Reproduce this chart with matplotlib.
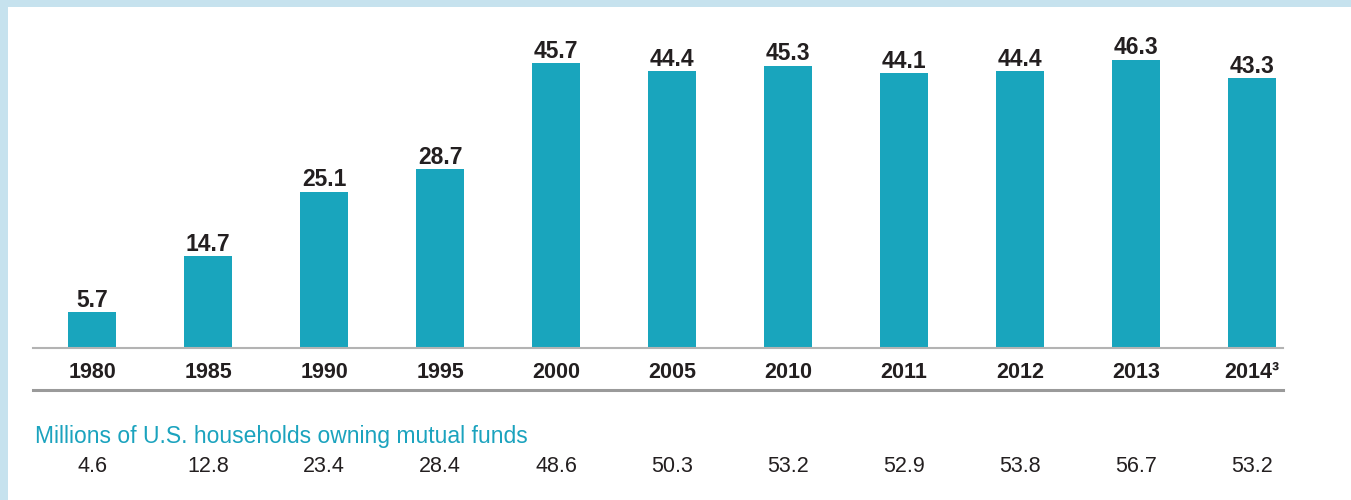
import matplotlib.pyplot as plt
from matplotlib.patches import Rectangle
from matplotlib.lines import Line2D
from matplotlib.transforms import blended_transform_factory

# 数据
years = ['1980', '1985', '1990', '1995', '2000', '2005', '2010', '2011', '2012', '2013', '2014\u00b3']
pct_households = [5.7, 14.7, 25.1, 28.7, 45.7, 44.4, 45.3, 44.1, 44.4, 46.3, 43.3]
millions_households = [4.6, 12.8, 23.4, 28.4, 48.6, 50.3, 53.2, 52.9, 53.8, 56.7, 53.2]
row_title = 'Millions of U.S. households owning mutual funds'

BAR = '#19A5BD'
TEAL = '#1BA3BE'
DARK = '#231F20'
BORDER = '#C6E2EE'

plt.rcParams['font.family'] = ['Liberation Sans Narrow', 'Liberation Sans', 'DejaVu Sans']

W, H = 1351, 500
fig = plt.figure(figsize=(W / 100, H / 100), dpi=100, facecolor=BORDER)

# 白色背景区域
fig.add_artist(Rectangle((8 / W, 0), 1 - 8 / W, 1 - 7 / H, transform=fig.transFigure,
                         facecolor='white', edgecolor='none', zorder=0))

# 柱状图
x0, x1 = 33, 1283
base_y, top_y = 348, 7
ax = fig.add_axes([x0 / W, 1 - base_y / H, (x1 - x0) / W, (base_y - top_y) / H])
ax.set_facecolor('none')

xs = list(range(len(years)))
ax.bar(xs, pct_households, width=0.414, color=BAR, zorder=2)
ax.set_xlim(-(92 - x0) / 116, (x1 - 92) / 116)
ax.set_ylim(0, (base_y - top_y) / 6.23)

for x, v in zip(xs, pct_households):
    ax.annotate(f'{v:.1f}', (x, v), xytext=(0, 4), textcoords='offset points',
                ha='center', va='baseline', fontsize=16.5, fontweight='bold', color=DARK)

ax.set_xticks(xs)
ax.set_xticklabels(years, fontsize=15.5, fontweight='bold', color=DARK)
ax.tick_params(axis='x', length=0, pad=10)
ax.set_yticks([])
for s in ['top', 'left', 'right']:
    ax.spines[s].set_visible(False)
ax.spines['bottom'].set_color('#B3B3B3')
ax.spines['bottom'].set_linewidth(1.5)

# 第二条分隔线
fig.add_artist(Line2D([x0 / W, x1 / W], [1 - 390 / H, 1 - 390 / H], transform=fig.transFigure,
                      color='#9A9A9A', linewidth=2.2))

# 下方数据行
fig.text(35 / W, 1 - 436 / H, row_title, color=TEAL, fontsize=16.5, va='center', ha='left')
trans = blended_transform_factory(ax.transData, fig.transFigure)
for x, v in zip(xs, millions_households):
    ax.text(x, 1 - 466 / H, f'{v:.1f}', transform=trans, ha='center', va='center',
            fontsize=15.5, color=DARK, clip_on=False)

fig.savefig('out.png', dpi=100, facecolor=fig.get_facecolor())
